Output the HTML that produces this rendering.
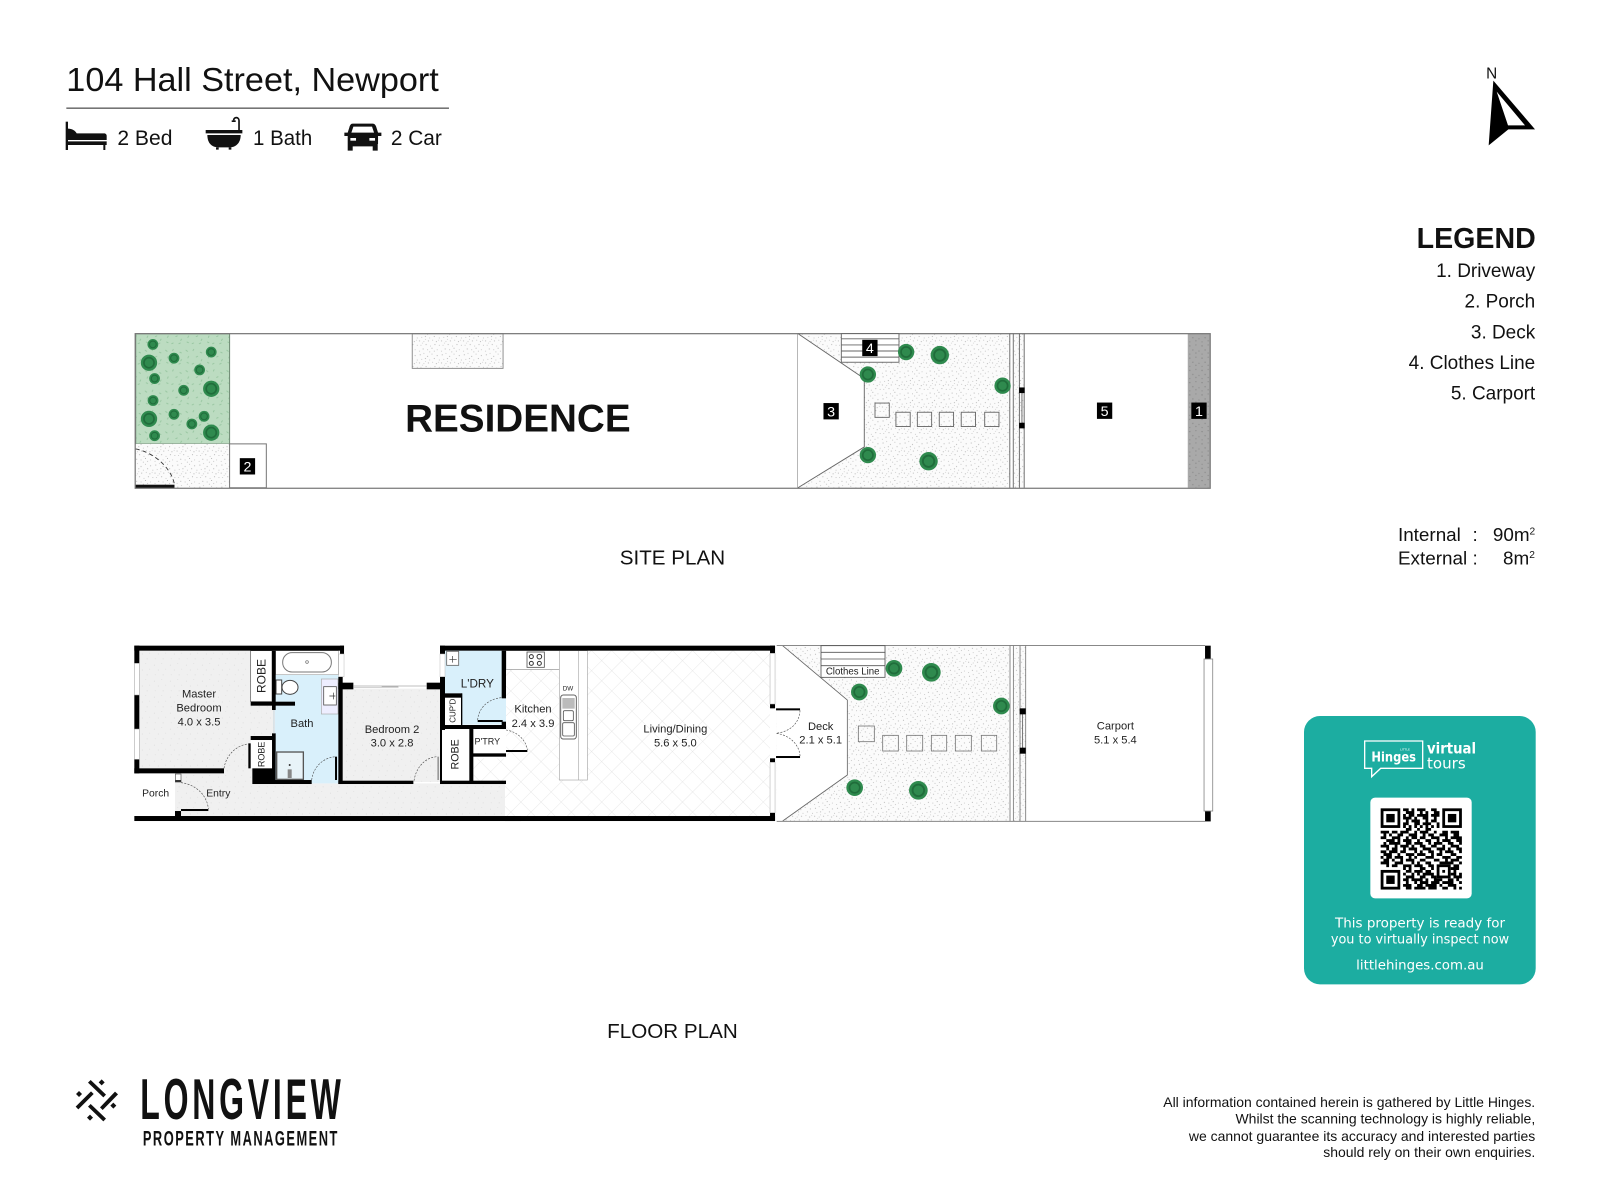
<!DOCTYPE html>
<html><head><meta charset="utf-8"><title>104 Hall Street, Newport</title>
<style>
html,body{margin:0;padding:0;background:#fff}
svg{display:block}
text{font-family:"Liberation Sans",sans-serif;fill:#111}
.m{text-anchor:middle}
.e{text-anchor:end}
.b{font-weight:bold}
.l{font-size:33.5px;text-anchor:middle;fill:#222}
.c text{font-family:"DejaVu Sans",sans-serif;fill:#fff}
.badge{fill:#000}
.bt{fill:#fff;font-size:14px;text-anchor:middle}
</style></head><body>
<svg xmlns="http://www.w3.org/2000/svg" width="1600" height="1200" viewBox="0 0 1568 1176">
<defs>
<pattern id="sp" width="30" height="30" patternUnits="userSpaceOnUse" patternTransform="scale(.72)">
<rect width="30" height="30" fill="#fbfbfb"/>
<g fill="#8a8a8a" stroke="#8a8a8a" stroke-width=".3">
<circle cx="2" cy="3" r=".45"/><circle cx="7" cy="1" r=".35"/><circle cx="12" cy="5" r=".45"/><circle cx="18" cy="2" r=".35"/><circle cx="25" cy="4" r=".45"/><circle cx="4" cy="9" r=".35"/><circle cx="9" cy="8" r=".45"/><circle cx="15" cy="10" r=".35"/><circle cx="21" cy="8" r=".45"/><circle cx="28" cy="10" r=".35"/><circle cx="1" cy="14" r=".45"/><circle cx="7" cy="15" r=".35"/><circle cx="13" cy="14" r=".45"/><circle cx="19" cy="13" r=".35"/><circle cx="24" cy="15" r=".45"/><circle cx="3" cy="20" r=".35"/><circle cx="10" cy="19" r=".45"/><circle cx="16" cy="21" r=".35"/><circle cx="22" cy="19" r=".45"/><circle cx="28" cy="20" r=".35"/><circle cx="6" cy="25" r=".45"/><circle cx="12" cy="26" r=".35"/><circle cx="18" cy="24" r=".45"/><circle cx="25" cy="26" r=".35"/><circle cx="1" cy="28" r=".35"/><circle cx="15" cy="29" r=".4"/><circle cx="21" cy="28" r=".4"/><circle cx="9" cy="12" r=".3"/><circle cx="27" cy="13" r=".3"/><circle cx="5" cy="17" r=".3"/>
</g></pattern>
<pattern id="spz" href="#sp" patternTransform="scale(2.2)"/>
<pattern id="hf" width="20" height="20" patternUnits="userSpaceOnUse" patternTransform="scale(2.4)">
<rect width="20" height="20" fill="#f0f0f0"/>
<g fill="#d8d8d8"><circle cx="3" cy="4" r=".6"/><circle cx="12" cy="2" r=".5"/><circle cx="8" cy="10" r=".6"/><circle cx="17" cy="9" r=".5"/><circle cx="4" cy="16" r=".5"/><circle cx="14" cy="16" r=".6"/></g></pattern>
<pattern id="dr" width="12" height="12" patternUnits="userSpaceOnUse">
<rect width="12" height="12" fill="#a9a9a9"/>
<g fill="#8c8c8c"><circle cx="2" cy="3" r=".7"/><circle cx="8" cy="2" r=".6"/><circle cx="5" cy="7" r=".7"/><circle cx="11" cy="8" r=".6"/><circle cx="2" cy="11" r=".6"/><circle cx="8" cy="10" r=".7"/></g></pattern>
<pattern id="gr" width="20" height="20" patternUnits="userSpaceOnUse">
<rect width="20" height="20" fill="#bcdcc1"/>
<g stroke="#93c39c" stroke-width=".8" fill="none"><path d="M2 3l2 1.5M10 2l-1 2M16 5l2 1M5 9l-1 2M12 10l2-1M18 12l-1 2M3 15l2 1M10 16l-2 1M15 17l2-1"/></g></pattern>
<pattern id="tile" width="14" height="14" patternUnits="userSpaceOnUse" patternTransform="rotate(45) scale(3.06)">
<rect width="14" height="14" fill="#fff"/>
<path d="M0 0H14M0 0V14" stroke="#d4d4d4" stroke-width=".5" fill="none"/></pattern>
<g id="tr"><circle r="1" fill="#2f8a4e"/><circle r=".62" fill="none" stroke="#206d3b" stroke-width=".2"/></g>
</defs>

<!-- header -->
<text x="65" y="89" font-size="33" textLength="365" lengthAdjust="spacingAndGlyphs">104 Hall Street, Newport</text>
<line x1="65" y1="106" x2="440" y2="106" stroke="#222" stroke-width="1"/>
<g transform="translate(0 29.4) scale(.3267)" fill="#111">
<path d="M197 275h7v85h-7z"/><path d="M204 296c12 0 22 6 26 14H312c6 0 8 4 8 8v12H204z"/><path d="M204 334H320v11h-4v15h-6v-15H204z"/>
<path d="M617 300H727v10H617z"/><path d="M622 315H722C722 340 706 352 690 352H655C636 352 622 340 622 315z"/><path d="M648 352h8v7h-8zM686 352h8v7h-8z"/>
<path d="M717 300V272c0-12-16-12-16-1" fill="none" stroke="#111" stroke-width="5"/><path d="M695 271h12v5h-12z"/>
<path d="M1058 281H1118C1124 281 1127 286 1129 292L1134 308H1144V318H1134V342H1133V362H1118V349H1058V362H1043V318H1033V308H1043L1048 292C1050 286 1052 281 1058 281ZM1060 290L1054 308H1122L1116 290Z" fill-rule="evenodd"/>
<rect x="1051" y="324" width="17" height="8" fill="#fff"/><rect x="1108" y="324" width="17" height="8" fill="#fff"/>
</g>
<text x="115" y="142" font-size="20.5" textLength="54" lengthAdjust="spacingAndGlyphs">2 Bed</text>
<text x="248" y="142" font-size="20.5" textLength="58" lengthAdjust="spacingAndGlyphs">1 Bath</text>
<text x="383" y="142" font-size="20.5" textLength="50" lengthAdjust="spacingAndGlyphs">2 Car</text>

<!-- north -->
<g transform="translate(1352.4 49) scale(.3267)">
<path d="M340 92L465 238H385L326 286Z" fill="#000"/><path d="M350 125L435 226H384Z" fill="#fff"/>
<text x="335" y="85" font-size="46" class="m">N</text>
</g>

<!-- legend -->
<text x="1505" y="243" font-size="28" class="e b">LEGEND</text>
<g font-size="18.6" text-anchor="end">
<text x="1504.5" y="271.5">1. Driveway</text>
<text x="1504.5" y="301.5">2. Porch</text>
<text x="1504.5" y="331.5">3. Deck</text>
<text x="1504.5" y="361.5">4. Clothes Line</text>
<text x="1504.5" y="391.5">5. Carport</text>
</g>
<text x="1370" y="530" font-size="18.5">Internal</text><text x="1443" y="530" font-size="18.5">:</text>
<text x="1370" y="553" font-size="18.5">External</text><text x="1443" y="553" font-size="18.5">:</text>
<text x="1463" y="530" font-size="18.5">90m<tspan font-size="10" dy="-6">2</tspan></text>
<text x="1473" y="553" font-size="18.5">8m<tspan font-size="10" dy="-6">2</tspan></text>

<text x="659" y="553" font-size="20.2" class="m">SITE PLAN</text>
<text x="659" y="1017" font-size="20.2" class="m">FLOOR PLAN</text>

<!-- SITE PLAN -->
<rect x="133" y="327" width="92" height="108" fill="url(#gr)" stroke="#6f8a74" stroke-width="1"/>
<rect x="133" y="435" width="92" height="43" fill="url(#sp)"/>
<rect x="782" y="327" width="208" height="151" fill="url(#sp)"/>
<rect x="993" y="327" width="10" height="151" fill="url(#sp)"/>
<rect x="1164" y="327" width="22" height="151" fill="url(#dr)"/>
<rect x="404" y="327" width="89" height="34" fill="url(#sp)" stroke="#888" stroke-width=".9"/>
<rect x="225" y="435" width="36" height="43" fill="#fff" stroke="#777" stroke-width="1"/>
<rect x="132.5" y="327" width="1053.5" height="151.5" fill="none" stroke="#777" stroke-width="1.2"/>
<path d="M133 440C150 443 168 458 171 475" fill="none" stroke="#333" stroke-width=".9" stroke-dasharray="4 3"/>
<rect x="133" y="475" width="38" height="3" fill="#111"/>
<g fill="none" stroke="#666" stroke-width=".9">
<path d="M782 327V478"/><path d="M782 327L847 371V438L782 478" fill="#fff"/>
<rect x="824.5" y="327" width="56.5" height="28" fill="#fff"/>
<path d="M824.5 332H881M824.5 338H881M824.5 344H881M824.5 350H881"/>
<path d="M989.6 327V478M993 327V478M999 327V478M1003.7 327V478M1001.5 383V417"/>
<rect x="857.5" y="395" width="14" height="14"/><rect x="878" y="404" width="14" height="14"/><rect x="899" y="404" width="14" height="14"/><rect x="920.5" y="404" width="14" height="14"/><rect x="942" y="404" width="14" height="14"/><rect x="965" y="404" width="14" height="14"/>
</g>
<rect x="998.7" y="379.7" width="5.5" height="5.5" fill="#000"/><rect x="998.7" y="414.3" width="5.5" height="5.5" fill="#000"/>
<g>
<use href="#tr" transform="translate(149.8 337.5) scale(5.3)"/><use href="#tr" transform="translate(207 345) scale(5.3)"/><use href="#tr" transform="translate(170.5 351) scale(5.3)"/><use href="#tr" transform="translate(146 355.5) scale(8)"/><use href="#tr" transform="translate(195.6 362.5) scale(5.3)"/><use href="#tr" transform="translate(151.5 371) scale(5.3)"/><use href="#tr" transform="translate(207 381) scale(8)"/><use href="#tr" transform="translate(180 382.5) scale(5.3)"/><use href="#tr" transform="translate(150 392.5) scale(5.3)"/><use href="#tr" transform="translate(146 410.5) scale(8)"/><use href="#tr" transform="translate(170.5 406) scale(5.3)"/><use href="#tr" transform="translate(200 408) scale(5.3)"/><use href="#tr" transform="translate(188 415.5) scale(5.3)"/><use href="#tr" transform="translate(151.5 427) scale(5.3)"/><use href="#tr" transform="translate(207 424) scale(8)"/>
<use href="#tr" transform="translate(888 345) scale(8)"/><use href="#tr" transform="translate(921 348) scale(9)"/><use href="#tr" transform="translate(850.5 367) scale(8)"/><use href="#tr" transform="translate(982.5 378) scale(8)"/><use href="#tr" transform="translate(850.5 446) scale(8)"/><use href="#tr" transform="translate(910 452) scale(9)"/>
</g>
<rect class="badge" x="235" y="449" width="15" height="16"/><text class="bt" x="242.5" y="462">2</text>
<rect class="badge" x="807" y="395" width="15" height="16"/><text class="bt" x="814.5" y="408">3</text>
<rect class="badge" x="845" y="333" width="15" height="16"/><text class="bt" x="852.5" y="346">4</text>
<rect class="badge" x="1075" y="394.5" width="15" height="16"/><text class="bt" x="1082.5" y="407.5">5</text>
<rect class="badge" x="1167.5" y="394.5" width="15" height="16"/><text class="bt" x="1175" y="407.5">1</text>
<text x="507.5" y="423" font-size="38" class="m b" textLength="221" lengthAdjust="spacingAndGlyphs" style="font-weight:bold">RESIDENCE</text>

<!-- FLOOR PLAN left (zoom4 coords) -->
<g transform="translate(117.6 617.4) scale(.3267)">
<path d="M58 62H392V215H460V320H392V415H465V460H1155V558H165V430H58Z" fill="url(#hf)"/>
<rect x="668" y="176" width="295" height="280" fill="url(#hf)"/>
<rect x="43" y="430" width="122" height="128" fill="#fff"/>
<path d="M462 135H655V460H575V450H465V240H462Z" fill="#d9f0fb"/>
<rect x="392" y="62" width="64" height="153" fill="#fff" stroke="#555" stroke-width="2"/>
<rect x="392" y="330" width="65" height="85" fill="#fff"/>
<rect x="467" y="62" width="188" height="72" fill="#fff" stroke="#aaa" stroke-width="2"/>
<rect x="488" y="68" width="146" height="58" rx="28" fill="#fff" stroke="#777" stroke-width="3"/><circle cx="561" cy="96" r="4" fill="none" stroke="#666" stroke-width="2"/>
<ellipse cx="510" cy="172" rx="24" ry="21" fill="#fff" stroke="#444" stroke-width="3"/><rect x="468" y="150" width="17" height="42" fill="#fff" stroke="#444" stroke-width="3"/>
<rect x="604" y="147" width="50" height="105" fill="#eef" stroke="#aaa" stroke-width="2"/><rect x="611" y="170" width="38" height="55" fill="#fff" stroke="#555" stroke-width="2.5"/><path d="M628 198h18M640 188v20" stroke="#333" stroke-width="2"/>
<rect x="470" y="366" width="80" height="82" fill="#e8f3f8" stroke="#555" stroke-width="4"/><rect x="503" y="418" width="12" height="26" fill="#888"/><circle cx="509" cy="405" r="3" fill="#333"/>
<g fill="#000">
<rect x="43" y="47" width="629" height="15"/>
<rect x="43" y="47" width="15" height="53"/><rect x="43" y="195" width="15" height="102"/><rect x="43" y="388" width="15" height="42"/>
<rect x="43" y="415" width="269" height="15"/>
<rect x="456" y="62" width="11" height="178"/><rect x="392" y="215" width="133" height="12"/>
<rect x="456" y="310" width="11" height="150"/><rect x="392" y="318" width="70" height="12"/><rect x="385" y="340" width="7" height="75"/>
<rect x="397" y="415" width="68" height="47"/><rect x="465" y="450" width="110" height="12"/>
<rect x="655" y="140" width="13" height="322"/><rect x="655" y="158" width="45" height="20"/><rect x="660" y="47" width="12" height="25"/><rect x="920" y="158" width="55" height="20"/>
<rect x="655" y="452" width="225" height="10"/><rect x="645" y="380" width="6" height="70"/>
<rect x="960" y="452" width="195" height="10"/><rect x="960" y="297" width="6" height="155"/><rect x="952" y="380" width="5" height="70" fill="#999"/>
<rect x="43" y="558" width="1160" height="15"/><rect x="165" y="543" width="18" height="17"/><rect x="183" y="537" width="82" height="6"/>
</g>
<rect x="43" y="100" width="15" height="95" fill="#fff" stroke="#999" stroke-width="1.5"/><rect x="43" y="297" width="15" height="91" fill="#fff" stroke="#999" stroke-width="1.5"/>
<rect x="656" y="72" width="16" height="68" fill="#fff" stroke="#bbb" stroke-width="1.5"/>
<rect x="166" y="432" width="17" height="24" fill="#fff" stroke="#555" stroke-width="2"/><rect x="166" y="450" width="17" height="6" fill="#333"/>
<path d="M700 168H920" stroke="#aaa" stroke-width="2"/><path d="M785 171H835" stroke="#888" stroke-width="2"/><path d="M700 172H835" stroke="#bbb" stroke-width="2"/>
<path d="M462 240V310" stroke="#9db5c2" stroke-width="2"/>
<g fill="none" stroke="#444" stroke-width="1.8" stroke-dasharray="6 4">
<path d="M312 415C318 375 350 345 385 342"/><path d="M575 450C580 410 610 382 648 380"/><path d="M882 452C888 412 915 382 952 380"/><path d="M183 458C225 462 262 495 265 537"/>
</g>
<text class="l" x="237" y="202">Master</text><text class="l" x="237" y="245">Bedroom</text><text class="l" x="237" y="287">4.0 x 3.5</text>
<text class="l" x="546" y="291">Bath</text>
<text class="l" x="816" y="309">Bedroom 2</text><text class="l" x="816" y="350">3.0 x 2.8</text>
<text class="l" x="107" y="499" style="font-size:31px">Porch</text><text class="l" x="295" y="500" style="font-size:31px">Entry</text>
<text class="l" style="font-size:36px" transform="translate(437 138) rotate(-90)">ROBE</text>
<text class="l" style="font-size:27px" transform="translate(434 373) rotate(-90)">ROBE</text>
</g>

<!-- FLOOR PLAN east (zoom6 coords) -->
<g transform="translate(754.6 617.4) scale(.3267)">
<rect x="20" y="47" width="700" height="526" fill="url(#spz)"/>
<rect x="730" y="47" width="37" height="526" fill="url(#spz)"/>
<path d="M20 47H38L232 210V435L38 573H20Z" fill="#fff"/>
<path d="M38 47L232 210V435L38 573" fill="none" stroke="#666" stroke-width="2.5"/>
<path d="M20 46.5H1305M20 574H1322" stroke="#888" stroke-width="3"/>
<rect x="153" y="47" width="192" height="95" fill="#fff" stroke="#555" stroke-width="2.5"/>
<path d="M153 67H345M153 87H345M153 107H345" stroke="#555" stroke-width="2.5"/>
<g fill="none" stroke="#777" stroke-width="2.5">
<path d="M720 47V573M730 47V573M750 47V573M767 47V573"/>
<rect x="265" y="288" width="48" height="47"/><rect x="338" y="316" width="47" height="47"/><rect x="410" y="316" width="48" height="47"/><rect x="484" y="316" width="46" height="47"/><rect x="556" y="316" width="48" height="47"/><rect x="634" y="316" width="46" height="47"/>
</g>
<path d="M758 244V362" stroke="#333" stroke-width="2"/>
<rect x="749" y="235" width="18" height="18" fill="#000"/><rect x="749" y="353" width="18" height="18" fill="#000"/>
<rect x="1305" y="47" width="17" height="40" fill="#000"/><rect x="1305" y="543" width="17" height="30" fill="#000"/>
<rect x="1302" y="87" width="26" height="456" fill="#fff" stroke="#888" stroke-width="2.5"/>
<use href="#tr" transform="translate(372 115) scale(25)"/><use href="#tr" transform="translate(484 127) scale(28)"/><use href="#tr" transform="translate(268 186) scale(25)"/><use href="#tr" transform="translate(694 228) scale(25)"/><use href="#tr" transform="translate(254 473) scale(25)"/><use href="#tr" transform="translate(445 481) scale(28)"/>
<text class="l" x="152" y="300">Deck</text><text class="l" x="152" y="341">2.1 x 5.1</text>
<text class="l" x="1036" y="299">Carport</text><text class="l" x="1036" y="340">5.1 x 5.4</text>
<text class="l" x="248" y="133" style="font-size:29px">Clothes Line</text>
</g>

<!-- FLOOR PLAN middle (zoom5 coords) -->
<g transform="translate(421.4 617.4) scale(.3267)">
<path d="M225 62H1020V558H225V462H130V385H225Z" fill="url(#tile)"/>
<rect x="45" y="62" width="172" height="222" fill="#d9f0fb"/>
<path d="M215 205H228V275H215Z" fill="#d9f0fb"/>
<rect x="36" y="190" width="59" height="95" fill="#fff"/>
<rect x="36" y="296" width="85" height="158" fill="#fff"/>
<rect x="130" y="296" width="98" height="78" fill="#fff"/>
<rect x="228" y="62" width="160" height="56" fill="#fff" stroke="#aaa" stroke-width="2"/>
<rect x="388" y="62" width="84" height="388" fill="#fff" stroke="#aaa" stroke-width="2"/><path d="M446 62V450" stroke="#aaa" stroke-width="2"/>
<path d="M228 118H388" stroke="#999" stroke-width="2"/>
<rect x="291" y="66" width="52" height="46" fill="#fff" stroke="#555" stroke-width="2.5"/><circle cx="304" cy="80" r="6" fill="none" stroke="#333" stroke-width="3"/><circle cx="328" cy="80" r="7" fill="none" stroke="#333" stroke-width="3"/><circle cx="304" cy="100" r="6" fill="none" stroke="#333" stroke-width="3"/><circle cx="328" cy="100" r="6" fill="none" stroke="#333" stroke-width="3"/>
<rect x="392" y="195" width="47" height="132" rx="8" fill="#fff" stroke="#666" stroke-width="3"/><rect x="397" y="204" width="37" height="32" fill="#bbb"/><rect x="400" y="242" width="30" height="30" rx="4" fill="#fff" stroke="#555" stroke-width="2.5"/><rect x="398" y="278" width="35" height="40" rx="4" fill="#fff" stroke="#555" stroke-width="2.5"/>
<rect x="50" y="64" width="36" height="42" fill="#fff" stroke="#666" stroke-width="2.5"/><path d="M58 88h22M68 78v20" stroke="#333" stroke-width="2"/>
<g fill="#000">
<rect x="30" y="47" width="1005" height="15"/><rect x="30" y="47" width="15" height="25"/><rect x="30" y="140" width="15" height="160"/>
<rect x="215" y="62" width="13" height="143"/><rect x="215" y="275" width="13" height="22"/><rect x="30" y="285" width="198" height="12"/>
<rect x="143" y="270" width="75" height="6"/><rect x="45" y="190" width="50" height="13"/><rect x="93" y="190" width="4" height="95"/>
<rect x="118" y="295" width="12" height="165"/><rect x="125" y="370" width="103" height="10"/><rect x="228" y="360" width="64" height="6"/>
<rect x="30" y="452" width="198" height="10"/><rect x="30" y="297" width="6" height="158"/>
<rect x="225" y="558" width="810" height="15"/>
<rect x="1020" y="47" width="15" height="23"/><rect x="1020" y="222" width="15" height="13"/><rect x="1020" y="385" width="15" height="12"/><rect x="1020" y="548" width="15" height="25"/>
<rect x="1038" y="235" width="72" height="6"/><rect x="1038" y="378" width="72" height="6"/>
</g>
<rect x="30" y="72" width="15" height="68" fill="#fff" stroke="#bbb" stroke-width="1.5"/>
<rect x="1020" y="70" width="15" height="152" fill="#fff" stroke="#aaa" stroke-width="1.5"/><rect x="1020" y="397" width="15" height="151" fill="#fff" stroke="#aaa" stroke-width="1.5"/>
<g fill="none" stroke="#444" stroke-width="1.8" stroke-dasharray="6 4">
<path d="M143 270C146 230 180 205 215 203"/><path d="M228 300C262 305 288 330 292 360"/><path d="M1110 241C1108 280 1080 305 1038 310"/><path d="M1110 378C1108 345 1080 315 1038 310"/>
</g>
<text class="l" x="142" y="172" style="font-size:35px">L'DRY</text>
<text class="l" x="309" y="248">Kitchen</text><text class="l" x="309" y="291">2.4 x 3.9</text>
<text class="l" x="736" y="308">Living/Dining</text><text class="l" x="736" y="349">5.6 x 5.0</text>
<text class="l" x="172" y="344" style="font-size:27px">P'TRY</text>
<text class="l" x="414" y="181" style="font-size:19px">DW</text>
<text class="l" style="font-size:24px" transform="translate(77 242) rotate(-90)">CUP'D</text>
<text class="l" style="font-size:32px" transform="translate(86 373) rotate(-90)">ROBE</text>
</g>

<!-- card -->
<g class="c" transform="translate(1264.2 690.9) scale(.3267)">
<rect x="42" y="33" width="695" height="805" rx="48" fill="#1cada1"/>
<path d="M224 108H398V190H272L245 215V190H224Z" fill="none" stroke="#fff" stroke-width="4"/>
<text x="311" y="170" font-size="40" text-anchor="middle" font-weight="bold" textLength="134" lengthAdjust="spacingAndGlyphs">Hinges</text>
<text x="345" y="137" font-size="9" text-anchor="middle">LITTLE</text>
<text x="411" y="146" font-size="46" font-weight="bold" textLength="147" lengthAdjust="spacingAndGlyphs">virtual</text>
<text x="411" y="190" font-size="44" textLength="116" lengthAdjust="spacingAndGlyphs">tours</text>
<rect x="241" y="278" width="304" height="302" rx="14" fill="#fff"/>
<g transform="translate(272 310) scale(8.4)">
<g fill="none" stroke="#000" stroke-width="1">
<rect x=".5" y=".5" width="6" height="6"/><rect x="22.5" y=".5" width="6" height="6"/><rect x=".5" y="22.5" width="6" height="6"/><rect x="20.5" y="20.5" width="4" height="4"/>
<path d="M8 .5h2M11 .5h1M13 .5h3M18 .5h2M9 1.5h3M14 1.5h1M16 1.5h1M19 1.5h2M8 2.5h1M10 2.5h2M13 2.5h4M18 2.5h3M8 3.5h3M12 3.5h1M15 3.5h2M19 3.5h1M9 4.5h1M11 4.5h3M16 4.5h1M18 4.5h2M8 5.5h2M12 5.5h2M15 5.5h3M20 5.5h1M8 6.5h1M10 6.5h1M12 6.5h1M14 6.5h1M16 6.5h1M18 6.5h1M20 6.5h1M9 7.5h2M13 7.5h1M16 7.5h2M0 8.5h3M4 8.5h2M7 8.5h3M12 8.5h1M14 8.5h3M19 8.5h1M22 8.5h2M25 8.5h3M1 9.5h1M3 9.5h1M6 9.5h2M10 9.5h3M15 9.5h1M17 9.5h2M21 9.5h3M26 9.5h2M0 10.5h2M4 10.5h3M9 10.5h1M11 10.5h2M14 10.5h2M18 10.5h3M23 10.5h1M25 10.5h4M2 11.5h3M6 11.5h1M8 11.5h3M13 11.5h1M16 11.5h2M20 11.5h1M22 11.5h3M27 11.5h2M1 12.5h1M3 12.5h4M9 12.5h2M12 12.5h3M17 12.5h1M19 12.5h3M24 12.5h2M28 12.5h1M0 13.5h3M5 13.5h1M7 13.5h3M11 13.5h1M14 13.5h2M18 13.5h2M22 13.5h1M25 13.5h3M2 14.5h1M4 14.5h2M8 14.5h1M10 14.5h3M15 14.5h3M20 14.5h3M24 14.5h1M27 14.5h2M0 15.5h2M3 15.5h3M7 15.5h2M12 15.5h1M14 15.5h1M17 15.5h2M21 15.5h1M23 15.5h3M28 15.5h1M1 16.5h3M6 16.5h1M9 16.5h3M13 16.5h3M18 16.5h1M20 16.5h2M25 16.5h2M0 17.5h1M2 17.5h2M5 17.5h3M10 17.5h1M12 17.5h1M16 17.5h3M22 17.5h3M27 17.5h2M1 18.5h2M4 18.5h1M7 18.5h1M9 18.5h3M14 18.5h2M19 18.5h2M23 18.5h1M25 18.5h3M0 19.5h3M5 19.5h3M11 19.5h1M13 19.5h1M16 19.5h2M21 19.5h5M28 19.5h1M2 20.5h1M4 20.5h2M8 20.5h3M12 20.5h3M17 20.5h2M26 20.5h2M8 21.5h1M10 21.5h1M14 21.5h2M18 21.5h1M25 21.5h3M9 22.5h2M12 22.5h3M16 22.5h2M26 22.5h1M8 23.5h1M11 23.5h1M13 23.5h1M15 23.5h4M25 23.5h2M28 23.5h1M9 24.5h3M14 24.5h2M18 24.5h2M26 24.5h3M8 25.5h2M11 25.5h4M16 25.5h1M19 25.5h3M24 25.5h2M27 25.5h1M9 26.5h1M12 26.5h1M14 26.5h3M18 26.5h3M22 26.5h4M28 26.5h1M8 27.5h3M13 27.5h2M16 27.5h4M21 27.5h1M24 27.5h3M9 28.5h2M12 28.5h4M17 28.5h3M22 28.5h2M26 28.5h1M28 28.5h1"/>
</g>
<rect x="2" y="2" width="3" height="3" fill="#000"/><rect x="24" y="2" width="3" height="3" fill="#000"/><rect x="2" y="24" width="3" height="3" fill="#000"/><rect x="22" y="22" width="1" height="1" fill="#000"/>
</g>
<text x="390" y="668" font-size="41" text-anchor="middle" textLength="510" lengthAdjust="spacingAndGlyphs">This property is ready for</text>
<text x="390" y="715" font-size="41" text-anchor="middle" textLength="535" lengthAdjust="spacingAndGlyphs">you to virtually inspect now</text>
<text x="390" y="793" font-size="41" text-anchor="middle" textLength="383" lengthAdjust="spacingAndGlyphs">littlehinges.com.au</text>
</g>

<!-- logo -->
<g transform="translate(49 1038.8) scale(.3267)" fill="#111">
<path d="M122 60L168 104L160 112L114 68ZM195 95L204 103L158 150L150 142ZM77 140L123 94L131 102L85 148ZM122 132L168 176L160 184L114 140Z"/>
<path d="M155 58l9 9-9 9-9-9zM87 93l9 9-9 9-9-9zM190 128l9 9-9 9-9-9zM120 164l9 9-9 9-9-9z"/>
</g>
<text transform="translate(137.5 1096.7) scale(.56 1)" font-size="56" font-weight="bold" letter-spacing="6.6" fill="#111">LONGVIEW</text>
<text transform="translate(140 1122.5) scale(.6 1)" font-size="21" font-weight="bold" letter-spacing="2.45" fill="#111">PROPERTY MANAGEMENT</text>

<!-- disclaimer -->
<g font-size="13.7" text-anchor="end">
<text x="1504.5" y="1085">All information contained herein is gathered by Little Hinges.</text>
<text x="1504.5" y="1101">Whilst the scanning technology is highly reliable,</text>
<text x="1504.5" y="1118">we cannot guarantee its accuracy and interested parties</text>
<text x="1504.5" y="1134">should rely on their own enquiries.</text>
</g>
</svg>
</body></html>
